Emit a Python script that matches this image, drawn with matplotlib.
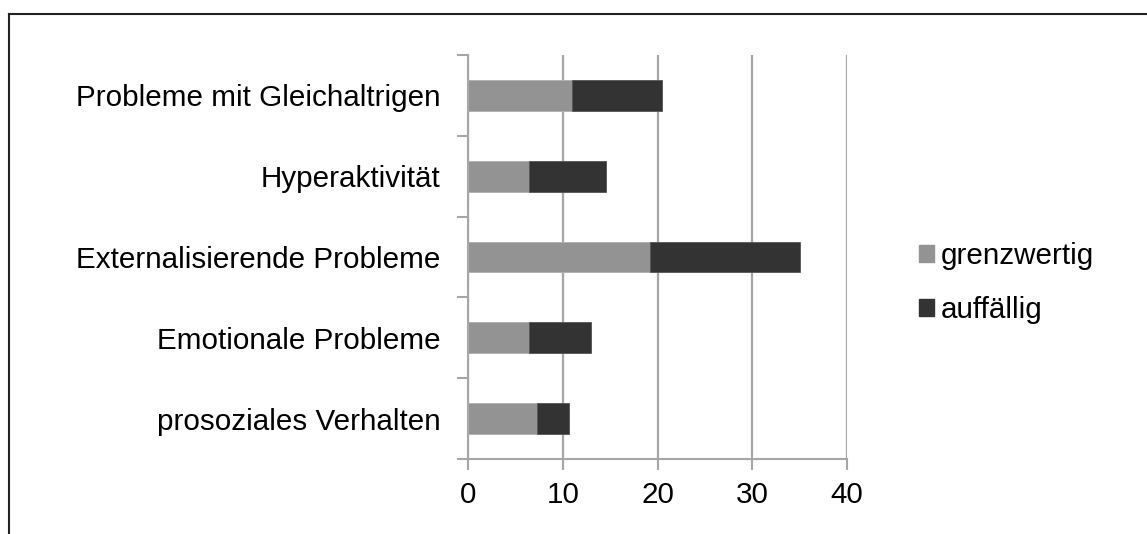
import matplotlib
matplotlib.use("Agg")
import matplotlib.pyplot as plt
from matplotlib.lines import Line2D
from matplotlib.patches import Patch
import numpy as np

plt.rcParams['font.family'] = ['Liberation Sans', 'DejaVu Sans']

categories = ["prosoziales Verhalten", "Emotionale Probleme",
              "Externalisierende Probleme", "Hyperaktivität",
              "Probleme mit Gleichaltrigen"]
grenzwertig = [7.3, 6.4, 19.2, 6.4, 11.0]
auffaellig = [3.4, 6.6, 15.8, 8.2, 9.5]
series_names = ["grenzwertig", "auffällig"]
xticks = [0, 10, 20, 30, 40]

c_gray = "#939393"
c_dark = "#333333"
c_grid = "#a6a6a6"
fs = 21.3

fig = plt.figure(figsize=(11.47, 5.34), dpi=100)
ax = fig.add_axes([0.408, 0.1404, 0.3305, 0.7566])

y = np.arange(len(categories))
ax.barh(y, grenzwertig, height=0.38, color=c_gray, edgecolor="#b0b0b0",
        linewidth=0.6, zorder=3)
ax.barh(y, auffaellig, left=grenzwertig, height=0.38, color=c_dark,
        edgecolor="#555555", linewidth=0.6, zorder=3)

ax.set_xlim(0, 40)
ax.set_ylim(-0.5, len(categories) - 0.5)
ax.set_xticks(xticks)
ax.set_xticklabels([str(t) for t in xticks], fontsize=fs)
ax.xaxis.grid(True, color=c_grid, linewidth=1.6, zorder=0)

# category labels on minor ticks, tick marks on boundaries
ax.set_yticks(np.arange(-0.5, len(categories), 1.0))
ax.set_yticklabels([])
ax.set_yticks(y, minor=True)
ax.set_yticklabels(categories, minor=True, fontsize=fs)
ax.tick_params(axis='y', which='minor', length=0, pad=20)
ax.tick_params(axis='y', which='major', length=8, width=1.5, color=c_grid)
ax.tick_params(axis='x', length=8, width=1.5, color=c_grid, pad=8)

for s in ["top", "right"]:
    ax.spines[s].set_visible(False)
for s in ["left", "bottom"]:
    ax.spines[s].set_color(c_grid)
    ax.spines[s].set_linewidth(1.5)

handles = [Patch(color=c_gray), Patch(color=c_dark)]
fig.legend(handles, series_names, loc="center left",
           bbox_to_anchor=(0.778, 0.47), frameon=False, fontsize=fs,
           handlelength=0.52, handleheight=0.52, handletextpad=0.2,
           labelspacing=0.9)

# chart frame
fig.add_artist(Line2D([0.008, 1.0], [1 - 14 / 534, 1 - 14 / 534],
                      transform=fig.transFigure, color="#222222", linewidth=1.5))
fig.add_artist(Line2D([0.008, 0.008], [0.0, 1 - 14 / 534],
                      transform=fig.transFigure, color="#222222", linewidth=1.5))

fig.savefig("out.png", dpi=100)
